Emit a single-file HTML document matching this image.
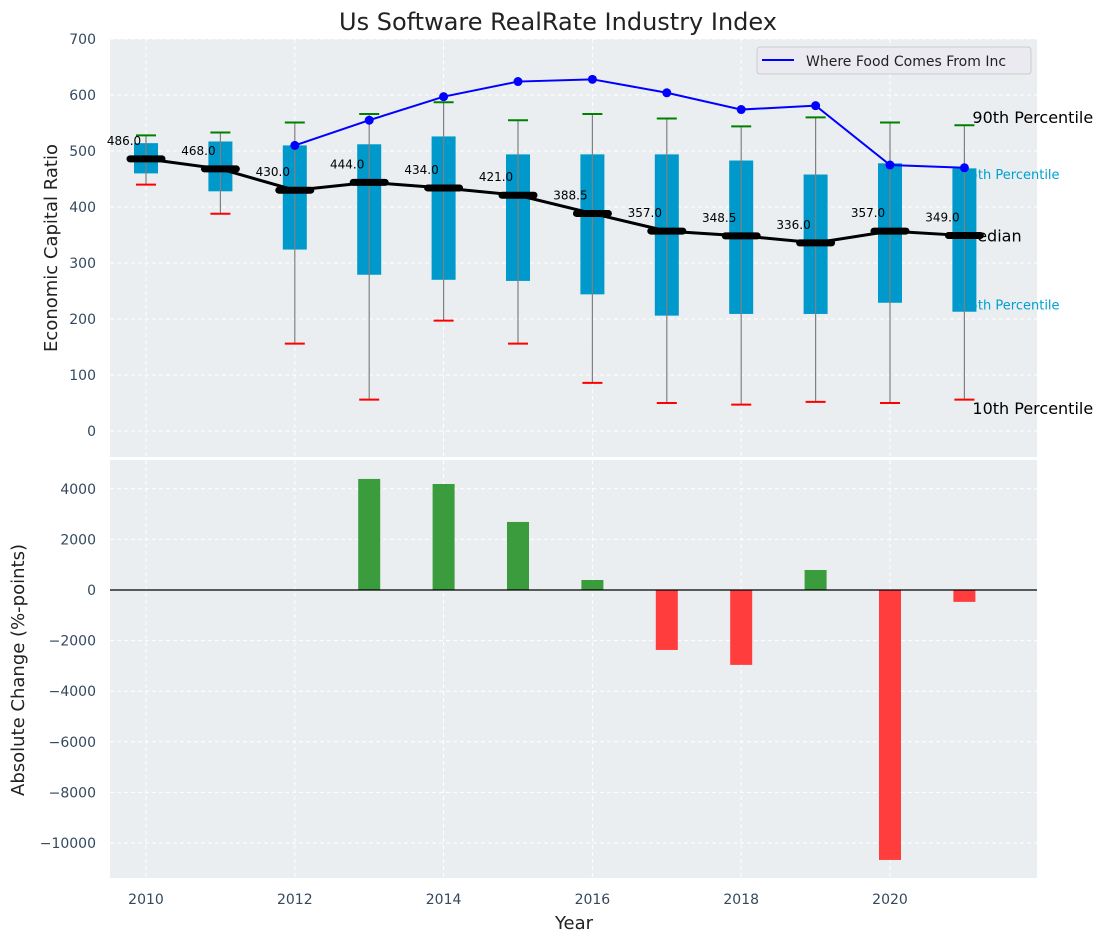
<!DOCTYPE html>
<html><head><meta charset="utf-8"><style>
body{margin:0;background:#fff;font-family:"Liberation Sans","DejaVu Sans",sans-serif}
svg text{font-family:"DejaVu Sans","Liberation Sans",sans-serif}
</style></head><body>
<svg id="chart" width="1107" height="942" xmlns="http://www.w3.org/2000/svg">
<rect width="1107" height="942" fill="#fff"/>
<text x="558" y="30" text-anchor="middle" font-size="24" fill="#222">Us Software RealRate Industry Index</text>
<g id="topg"></g><g id="botg"></g>
</svg>
<script>
const years=[2010,2011,2012,2013,2014,2015,2016,2017,2018,2019,2020,2021];
const medians=[486,468,430,444,434,421,388.5,357,348.5,336,357,349];
const q1=[460,428,324,279,270,268,244,206,209,209,229,213];
const q3=[514,517,510,512,526,494,494,494,483,458,478,469];
const p10=[440,388,156,56,197,156,86,50,47,52,50,56];
const p90=[528,533,551,566,587,555,566,558,544,560,551,546];
const companyYears=[2012,2013,2014,2015,2016,2017,2018,2019,2020,2021];
const companyVals=[510,555,597,624,628,604,574,581,475,470];
const changeYears=[2013,2014,2015,2016,2017,2018,2019,2020,2021];
const changeVals=[4390,4190,2690,395,-2370,-2960,790,-10670,-470];
const topTicks=[0,100,200,300,400,500,600,700];
const botTicks=[-10000,-8000,-6000,-4000,-2000,0,2000,4000];
const xTicks=[2010,2012,2014,2016,2018,2020];

const NS="http://www.w3.org/2000/svg";
const L=110,R=1037;
const X=v=>146+(v-2010)*74.4;
const YT=v=>431-v*0.56;
const YB=v=>590-v*0.0253;
function mk(p,tag,a,t){const e=document.createElementNS(NS,tag);for(const k in a)e.setAttribute(k,a[k]);if(t!=null)e.textContent=t;p.appendChild(e);return e;}
const topG=document.getElementById('topg'),botG=document.getElementById('botg');
const tc="#34495e";
let e=mk(topG,'rect',{x:L,y:39,width:R-L,height:418,fill:"#eaeef0"});


e=mk(botG,'rect',{x:L,y:460,width:R-L,height:418,fill:"#eaeef0"});


xTicks.forEach(t=>{
 mk(topG,'line',{x1:X(t),x2:X(t),y1:39,y2:457,stroke:"#fff","stroke-dasharray":"4,3"});
 mk(botG,'line',{x1:X(t),x2:X(t),y1:460,y2:878,stroke:"#fff","stroke-dasharray":"4,3"});
 e=mk(botG,'text',{x:X(t),y:904,"text-anchor":"middle","font-size":14,fill:tc},t);
 
 
});
topTicks.forEach(t=>{
 mk(topG,'line',{x1:L,x2:R,y1:YT(t),y2:YT(t),stroke:"#fff","stroke-dasharray":"4,3"});
 e=mk(topG,'text',{x:96,y:YT(t)+5,"text-anchor":"end","font-size":14,fill:tc},t);
 
 
});
botTicks.forEach(t=>{
 mk(botG,'line',{x1:L,x2:R,y1:YB(t),y2:YB(t),stroke:"#fff","stroke-dasharray":"4,3"});
 e=mk(botG,'text',{x:96,y:YB(t)+5,"text-anchor":"end","font-size":14,fill:tc},t<0?"\u2212"+(-t):t);
 
 
});
e=mk(topG,'text',{x:57,y:248,"text-anchor":"middle","font-size":18,fill:"#222",transform:"rotate(-90 57 248)"},"Economic Capital Ratio");


e=mk(botG,'text',{x:24,y:670,"text-anchor":"middle","font-size":18,fill:"#222",transform:"rotate(-90 24 670)"},"Absolute Change (%-points)");


e=mk(botG,'text',{x:574,y:929,"text-anchor":"middle","font-size":18,fill:"#222"},"Year");


const last=years.length-1,lx=X(years[last]);
const labs=[["90th Percentile",p90[last]+15,16,"#000",8,"label-90th"],["75th Percentile",q3[last]-8,13,"#00a0d0",-3,"label-75th"],["Median",medians[last],16,"#000",-1,"label-median"],["25th Percentile",q1[last]+15,13,"#00a0d0",-3,"label-25th"],["10th Percentile",p10[last]-15,16,"#000",8,"label-10th"]];
labs.forEach(l=>{e=mk(topG,'text',{x:lx+l[4],y:YT(l[1])+6,"font-size":l[2],fill:l[3]},l[0]);
 
 });
years.forEach((y,i)=>{
 const x=X(y);
 e=mk(topG,'rect',{x:x-12,y:YT(q3[i]),width:24,height:YT(q1[i])-YT(q3[i]),fill:"#0099cc"});
 
 
 e=mk(topG,'line',{x1:x,x2:x,y1:YT(p90[i]),y2:YT(p10[i]),stroke:"#808080","stroke-width":1.2});
 
 
 e=mk(topG,'line',{x1:x-10,x2:x+10,y1:YT(p90[i]),y2:YT(p90[i]),stroke:"green","stroke-width":2});
 
 
 e=mk(topG,'line',{x1:x-10,x2:x+10,y1:YT(p10[i]),y2:YT(p10[i]),stroke:"red","stroke-width":2});
 
 
});
e=mk(topG,'polyline',{points:years.map((y,i)=>X(y)+","+YT(medians[i])).join(" "),fill:"none",stroke:"#000","stroke-width":3});


years.forEach((y,i)=>{
 e=mk(topG,'line',{x1:X(y)-16,x2:X(y)+16,y1:YT(medians[i]),y2:YT(medians[i]),stroke:"#000","stroke-width":7,"stroke-linecap":"round"});
 
 
 e=mk(topG,'text',{x:X(y)-22,y:YT(medians[i])-14,"text-anchor":"middle","font-size":12,fill:"#000"},medians[i].toFixed(1));
 
 
});
e=mk(topG,'polyline',{points:companyYears.map((y,i)=>X(y)+","+YT(companyVals[i])).join(" "),fill:"none",stroke:"#0000ff","stroke-width":2});


companyYears.forEach((y,i)=>{e=mk(topG,'circle',{cx:X(y),cy:YT(companyVals[i]),r:4.5,fill:"#0000ff"});
 
 });
const lg=mk(topG,'g',{});


mk(lg,'rect',{x:757,y:47,width:274,height:27,rx:3,fill:"#eaeaf0",stroke:"#ccc"});
mk(lg,'line',{x1:762,x2:794,y1:60,y2:60,stroke:"#0000ff","stroke-width":2});
e=mk(lg,'text',{x:806,y:66,"font-size":14,fill:"#222"},"Where Food Comes From Inc");


changeYears.forEach((y,i)=>{
 const v=changeVals[i];
 e=mk(botG,'rect',{x:X(y)-11,y:Math.min(YB(v),YB(0)),width:22,height:Math.abs(YB(v)-YB(0)),fill:v>=0?"#3a9c3c":"#ff3d3d"});
 
 
});
e=mk(botG,'line',{x1:L,x2:R,y1:YB(0),y2:YB(0),stroke:"#000","stroke-width":1.2});


</script>
</body></html>
